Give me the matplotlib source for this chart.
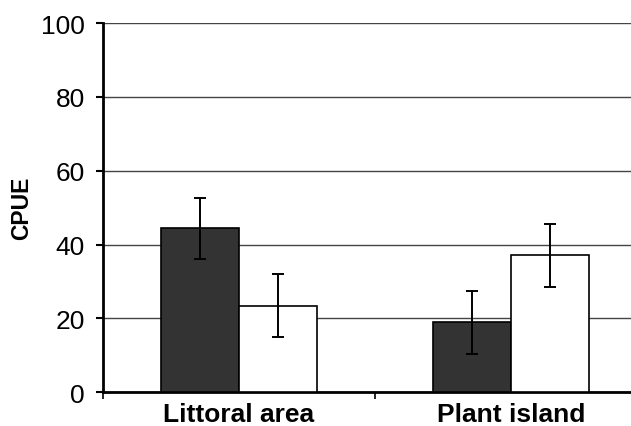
import numpy as np
import matplotlib.pyplot as plt

plt.rcParams['font.family'] = ['Liberation Sans', 'DejaVu Sans']

# CPUE means and error bar half-widths per habitat
sites = ['Littoral area', 'Plant island']
dark_vals = [44.4, 19.0]
dark_err = [8.3, 8.5]
white_vals = [23.4, 37.1]
white_err = [8.5, 8.6]

fig = plt.figure(figsize=(6.31, 4.27), dpi=100)
# axes run past the right edge of the figure, like the exported chart
ax = fig.add_axes([103/631, 1 - 393.3/427, 544/631, (393.3 - 24)/427])

x = np.arange(len(sites))
w = 0.287
ekw = dict(ecolor='black', elinewidth=1.4, capsize=4.5, capthick=1.4)
ax.bar(x - w/2, dark_vals, w, color='#333333', edgecolor='black', linewidth=1.2,
       yerr=dark_err, error_kw=ekw, zorder=3)
ax.bar(x + w/2, white_vals, w, color='white', edgecolor='black', linewidth=1.2,
       yerr=white_err, error_kw=ekw, zorder=3)

ax.set_xlim(-0.5, 1.5)
ax.set_ylim(0, 100)
ax.set_yticks(np.arange(0, 101, 20))
ax.yaxis.grid(True, color='#444444', linewidth=1.0, zorder=0)
ax.set_axisbelow(True)

ax.set_xticks(x)
ax.set_xticklabels(sites, fontsize=19, fontweight='bold')
ax.set_xticks([-0.5, 0.5, 1.5], minor=True)
ax.tick_params(axis='x', which='major', length=0, pad=7)
ax.tick_params(axis='x', which='minor', length=5, width=1.2, direction='out')
ax.tick_params(axis='y', labelsize=19, length=5, width=1.5, pad=8)

ax.set_ylabel('CPUE', fontsize=16.5, fontweight='bold')
ax.yaxis.set_label_coords(-0.128, 0.5)

for s in ['top', 'right']:
    ax.spines[s].set_visible(False)
ax.spines['left'].set_linewidth(2)
ax.spines['bottom'].set_linewidth(2)

fig.savefig('out.png', dpi=100)
